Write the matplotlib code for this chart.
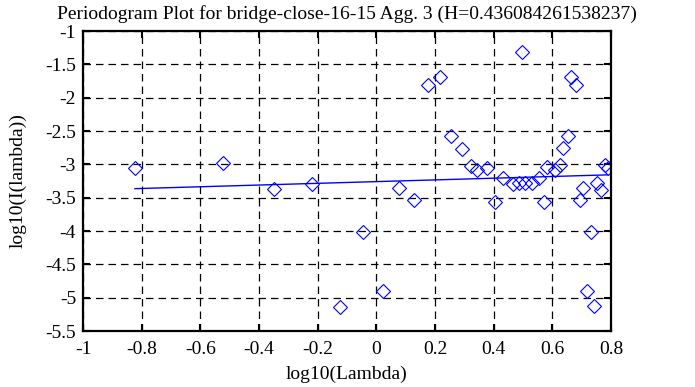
import matplotlib
matplotlib.use("Agg")
import matplotlib.pyplot as plt

plt.rcParams['font.family'] = ['Liberation Serif', 'DejaVu Serif']
plt.rcParams['axes.unicode_minus'] = False

# periodogram points: log10(lambda), log10(I(lambda))
log_lambda = [-0.823, -0.524, -0.348, -0.220, -0.124, -0.046, 0.022, 0.078,
              0.130, 0.177, 0.217, 0.254, 0.291, 0.322, 0.343, 0.376,
              0.405, 0.433, 0.465, 0.488, 0.498, 0.507, 0.530, 0.553,
              0.571, 0.581, 0.609, 0.626, 0.638, 0.652, 0.664, 0.681,
              0.694, 0.706, 0.717, 0.731, 0.743, 0.751, 0.766, 0.780, 0.789]
log_I = [-3.06, -2.985, -3.37, -3.30, -5.135, -4.01, -4.895, -3.36,
         -3.54, -1.81, -1.685, -2.57, -2.77, -3.02, -3.09, -3.06,
         -3.56, -3.21, -3.295, -3.285, -1.32, -3.285, -3.285, -3.21,
         -3.56, -3.04, -3.085, -3.01, -2.76, -2.57, -1.685, -1.81,
         -3.535, -3.36, -4.895, -4.01, -5.125, -3.285, -3.385, -3.01, -3.06]

# least squares fit line end points
fit_x = [-0.823, 0.789]
fit_y = [-3.365, -3.158]

x_ticks = [-1, -0.8, -0.6, -0.4, -0.2, 0, 0.2, 0.4, 0.6, 0.8]
y_ticks = [-5.5, -5, -4.5, -4, -3.5, -3, -2.5, -2, -1.5, -1]

FS = 14

fig = plt.figure(figsize=(6.95, 3.87), dpi=100)
ax = fig.add_axes([83 / 695, 1 - 331 / 387, 528 / 695, 300 / 387])

ax.plot(log_lambda, log_I, linestyle='none', marker='D', markersize=7.2,
        markerfacecolor='none', markeredgecolor='#0000ff', markeredgewidth=0.8)
ax.plot(fit_x, fit_y, color='#0000ff', lw=1.0)

ax.set_xlim(-1, 0.8)
ax.set_ylim(-5.5, -1)
ax.set_xticks(x_ticks)
ax.set_xticklabels([f"{v:g}" for v in x_ticks])
ax.set_yticks(y_ticks)
ax.set_yticklabels([f"{v:g}" for v in y_ticks])

ax.grid(True, color='black', lw=0.9, linestyle=(0, (6, 4)))
ax.tick_params(direction='in', length=5, width=1.5, top=True, right=True,
               labelsize=FS, colors='black')
ax.tick_params(axis='x', pad=7)
ax.tick_params(axis='y', pad=5)
for s in ax.spines.values():
    s.set_linewidth(1.6)

ax.set_title("Periodogram Plot for bridge-close-16-15 Agg. 3 (H=0.436084261538237)",
             fontsize=FS, pad=9)
ax.set_xlabel("log10(Lambda)", fontsize=FS, labelpad=6)
ax.set_ylabel("log10(I(lambda))", fontsize=FS, labelpad=13)

fig.savefig("out.png", dpi=100)
